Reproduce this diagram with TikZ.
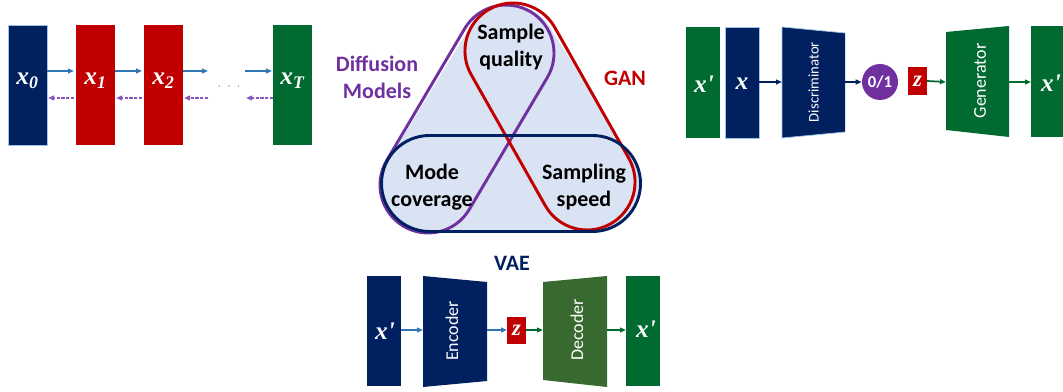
\documentclass[tikz,border=0pt]{standalone}
\usepackage{fontspec}
\usetikzlibrary{arrows.meta,calc}
\newfontfamily\calfont{Carlito}
\newfontfamily\serfont{Liberation Serif}
\definecolor{navy}{HTML}{002060}
\definecolor{dred}{HTML}{C00000}
\definecolor{dgreen}{HTML}{006A31}
\definecolor{olive}{HTML}{386A2F}
\definecolor{purp}{HTML}{7030A0}
\definecolor{dashpurp}{HTML}{8A58BA}
\definecolor{arrblue}{HTML}{2E75B6}
\definecolor{lfill}{HTML}{DAE3F3}
\definecolor{lborder}{HTML}{9DC3E6}
\newcommand{\mv}[1]{{\serfont\bfseries\itshape #1}}
\begin{document}
\begin{tikzpicture}[x=0.75pt,y=0.75pt,
  blk/.style={rectangle, inner sep=0pt, outer sep=0pt, text=white, font=\fontsize{16}{18}\selectfont},
  lab/.style={text=white, font=\fontsize{19}{21}\selectfont},
  fwd/.style={-{Triangle[length=4.5pt,width=3.6pt]}, line width=1.3pt},
  bwd/.style={-{Triangle[length=4.5pt,width=3.6pt]}, line width=1.3pt, dashpurp, dash pattern=on 2.5pt off 1pt},
  stad/.style={rectangle, draw, inner sep=0pt, outer sep=0pt, minimum height={96*0.75pt}, rounded corners={48*0.75pt}, line width=2.2pt},
  big/.style={font=\calfont\bfseries\fontsize{16.5}{20.25}\selectfont, align=center},
  rot/.style={rotate=90, text=white, inner sep=0pt}
]
\useasboundingbox (0,0) rectangle (1063,-392);

% ---------------- Diffusion chain ----------------
\node[blk, fill=navy, draw=lborder, line width=0.6pt, minimum width={39*0.75pt}, minimum height={120*0.75pt}] (x0) at (27.5,-85) {};
\node[blk, fill=dred, minimum width={39*0.75pt}, minimum height={120*0.75pt}] (x1) at (95.5,-85) {};
\node[blk, fill=dred, minimum width={39*0.75pt}, minimum height={120*0.75pt}] (x2) at (163.5,-85) {};
\node[blk, fill=dgreen, minimum width={39*0.75pt}, minimum height={120*0.75pt}] (xT) at (292.5,-85) {};
\node[lab] (l0) at (x0) [yshift=3pt] {\mv{x\textsubscript{0}}};
\node[lab] (l1) at (x1) [yshift=3pt] {\mv{x\textsubscript{1}}};
\node[lab] (l2) at (x2) [yshift=3pt] {\mv{x\textsubscript{2}}};
\node[lab] (lT) at (xT) [yshift=3pt] {\mv{x\textsubscript{T}}};
\node[inner sep=0pt, text=arrblue, font=\fontsize{9}{10}\selectfont] (dots) at (229,-87) {$\cdot\;\cdot\;\cdot$};
\coordinate (dL) at (208,-71);
\coordinate (dR) at (245,-71);
\coordinate (bL) at (208,-98);
\coordinate (bR) at (246,-98);

\draw[fwd, arrblue] ($(x0.east)+(0,14)$) -- ($(x1.west)+(-2,14)$);
\draw[fwd, arrblue] ($(x1.east)+(0,14)$) -- ($(x2.west)+(-2,14)$);
\draw[fwd, arrblue] ($(x2.east)+(0,14)$) -- (dL);
\draw[fwd, arrblue] (dR) -- ($(xT.west)+(-1,14)$);
\draw[bwd] ($(x1.west)+(-2,-13)$) -- ($(x0.east)+(1,-13)$);
\draw[bwd] ($(x2.west)+(-2,-13)$) -- ($(x1.east)+(1,-13)$);
\draw[bwd] (bL) -- ($(x2.east)+(1,-13)$);
\draw[bwd] ($(xT.west)+(0,-13)$) -- (bR);

% ---------------- Central triangle ----------------
\coordinate (T) at (510,-52);
\coordinate (L) at (429,-184);
\coordinate (R) at (592,-183);
\fill[lfill] (T) -- (L) -- (R) -- cycle;
\draw[lfill, line width={94*0.75pt}, line join=round] (T) -- (L) -- (R) -- cycle;
\node[stad, draw=purp, minimum width={249.3*0.75pt}, rotate=59.4] (diffst) at (467,-119) {};
\node[stad, draw=dred, minimum width={246.5*0.75pt}, rotate=-60.5] (ganst) at (550,-116.5) {};
\node[stad, draw=navy, minimum width={259*0.75pt}] (vaest) at (511,-183.5) {};

\node[big] (sq) at (511,-47) {Sample\\quality};
\node[big] (mc) at (432,-187) {Mode\\coverage};
\node[big] (ss) at (584,-187) {Sampling\\speed};
\node[big, text=purp] (dm) at (377,-77) {Diffusion\\Models};
\node[big, text=dred] (gan) at (625,-78) {GAN};

% ---------------- GAN ----------------
\node[blk, fill=dgreen, minimum width={34*0.75pt}, minimum height={111*0.75pt}] (gx1) at (703,-82.5) {};
\node[lab] (gx1l) at (704,-84) {\mv{x'}};
\node[blk, fill=navy, draw=lborder, line width=0.6pt, minimum width={34*0.75pt}, minimum height={111*0.75pt}] (gx) at (742,-82.5) {};
\node[lab] (gxl) at (742,-84) {\mv{x}};
\fill[navy] (782,-27) -- (845,-33) -- (845,-132) -- (782,-138) -- cycle;
\draw[lborder, line width=0.5pt] (782,-27) -- (845,-33) (782,-27) -- (782,-138) -- (845,-132);
\coordinate (discW) at (782,-82);
\coordinate (discE) at (845,-82);
\node[rot, font=\calfont\fontsize{11}{12}\selectfont] (disc) at (813.5,-82) {Discriminator};
\node[circle, fill=purp, inner sep=0pt, minimum size={36*0.75pt}, text=white, font=\calfont\bfseries\fontsize{12.5}{14}\selectfont] (o1) at (880,-82) {0/1};
\node[blk, fill=dred, minimum width={19*0.75pt}, minimum height={28*0.75pt}, font=\fontsize{17}{18}\selectfont] (gz) at (917.5,-81) {\mv{z}};
\fill[dgreen] (946,-32) -- (1009,-26) -- (1009,-137) -- (946,-130) -- cycle;
\coordinate (genW) at (946,-82);
\coordinate (genE) at (1009,-82);
\node[rot, font=\calfont\fontsize{13.5}{14}\selectfont] (gen) at (980,-81) {Generator};
\node[blk, fill=dgreen, minimum width={34*0.75pt}, minimum height={111*0.75pt}] (gx2) at (1048,-81.5) {};
\node[lab] (gx2l) at (1051,-83) {\mv{x'}};

\draw[fwd, navy] (gx.east |- discW) -- (discW);
\draw[fwd, navy] (discE) -- (o1.west);
\draw[fwd, dgreen] (gz.east) -- (genW);
\draw[fwd, dgreen] (genE) -- (gx2.west |- genE);

% ---------------- VAE ----------------
\node[font=\calfont\bfseries\fontsize{16.5}{20}\selectfont, text=navy] (vae) at (512,-263) {VAE};
\node[blk, fill=navy, minimum width={34*0.75pt}, minimum height={110*0.75pt}] (vx1) at (384,-331) {};
\node[lab] (vx1l) at (385,-331) {\mv{x'}};
\fill[navy] (423,-276) -- (487,-282) -- (487,-381) -- (423,-387) -- cycle;
\coordinate (encW) at (423,-330);
\coordinate (encE) at (487,-330);
\node[rot, font=\calfont\fontsize{13.5}{14}\selectfont] (enc) at (452,-331) {Encoder};
\node[blk, fill=dred, minimum width={19*0.75pt}, minimum height={27*0.75pt}, font=\fontsize{17}{18}\selectfont] (vz) at (516.5,-330.5) {\mv{z}};
\fill[olive] (543,-282) -- (607,-276) -- (607,-387) -- (543,-380) -- cycle;
\coordinate (decW) at (543,-330);
\coordinate (decE) at (607,-330);
\node[rot, font=\calfont\fontsize{13.5}{14}\selectfont] (dec) at (577,-330) {Decoder};
\node[blk, fill=dgreen, minimum width={34*0.75pt}, minimum height={110*0.75pt}] (vx2) at (643,-331) {};
\node[lab] (vx2l) at (646,-329) {\mv{x'}};

\draw[fwd, arrblue] (vx1.east |- encW) -- (encW);
\draw[fwd, arrblue] (encE) -- (vz.west |- encE);
\draw[fwd, dgreen] (vz.east |- decW) -- (decW);
\draw[fwd, dgreen] (decE) -- (vx2.west |- decE);
\end{tikzpicture}
\end{document}
